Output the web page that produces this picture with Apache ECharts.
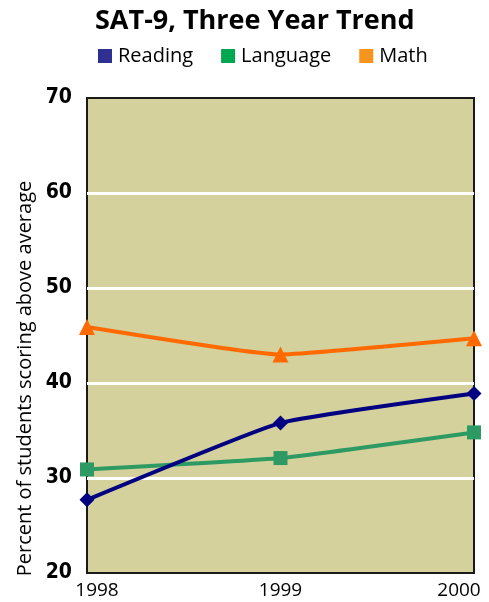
<!DOCTYPE html>
<html>
<head>
<meta charset="utf-8">
<script src="https://cdn.jsdelivr.net/npm/echarts@6/dist/echarts.min.js"></script>
<style>
html, body { margin: 0; padding: 0; background: #fff; }
#chart { width: 489px; height: 602px; }
</style>
</head>
<body>
<div id="chart"></div>
<script>
// data
var years = ['1998', '1999', '2000'];
var reading = [27.7, 35.8, 38.9];
var language = [30.9, 32.1, 34.8];
var math = [45.9, 43.0, 44.7];

var chart = echarts.init(document.getElementById('chart'));
var option = {
	title : {
		text : 'SAT-9, Three Year Trend',
		left : 90,
		top : 3,
		textStyle : {
			fontFamily : 'Open Sans',
			fontWeight : 'bold',
			fontSize : 27,
			color : '#000'
		}
	},
	legend : {
		top : 41,
		left : 93,
		itemWidth : 14,
		itemHeight : 14,
		itemGap : 28,
		icon : 'rect',
		textStyle : {
			fontFamily : 'Open Sans',
			fontSize : 20,
			color : '#000',
			padding : [0, 0, 0, 1]
		},
		data : [
			{ name : 'Reading', itemStyle : { color : '#2e3192' } },
			{ name : 'Language', itemStyle : { color : '#00a651' } },
			{ name : 'Math', itemStyle : { color : '#f7941d' } }
		]
	},
	grid : {
		left : 87,
		right : 15,
		top : 98,
		bottom : 29,
		show : true,
		backgroundColor : '#d4d19c',
		borderColor : '#1a1a1a',
		borderWidth : 2
	},
	xAxis : {
		type : 'category',
		data : years,
		boundaryGap : false,
		axisLine : { show : false },
		axisTick : { show : false },
		splitLine : { show : false },
		axisLabel : {
			margin : 8,
			formatter : function(v, i) {
				if (i === 0) return '{l|' + v + '}';
				if (i === years.length - 1) return '{r|' + v + '}';
				return '{m|' + v + '}';
			},
			rich : {
				l : { fontFamily : 'Open Sans', fontSize : 19, color : '#000', padding : [0, 0, 0, 20] },
				m : { fontFamily : 'Open Sans', fontSize : 19, color : '#000' },
				r : { fontFamily : 'Open Sans', fontSize : 19, color : '#000', padding : [0, 30, 0, 0] }
			}
		}
	},
	yAxis : {
		type : 'value',
		min : 20,
		max : 70,
		interval : 10,
		name : 'Percent of students scoring above average',
		nameLocation : 'middle',
		nameGap : 52,
		nameTextStyle : {
			fontFamily : 'Open Sans',
			fontSize : 20,
			color : '#000',
			padding : [0, 86, 0, 0]
		},
		axisLine : { show : false },
		axisTick : { show : false },
		axisLabel : {
			margin : 15,
			fontFamily : 'DejaVu Sans Condensed',
			fontWeight : 'bold',
			fontSize : 21,
			color : '#000'
		},
		splitLine : {
			show : true,
			showMinLine : false,
			showMaxLine : false,
			lineStyle : { color : '#ffffff', width : 3 }
		}
	},
	series : [
		{
			name : 'Reading',
			type : 'line',
			data : reading,
			smooth : 0.12,
			symbol : 'diamond',
			symbolSize : 15,
			color : '#000080',
			lineStyle : { width : 4, color : '#000080' },
			itemStyle : { color : '#000080' },
			z : 3
		},
		{
			name : 'Language',
			type : 'line',
			data : language,
			smooth : 0.12,
			symbol : 'rect',
			symbolSize : 14,
			color : '#2e9a63',
			lineStyle : { width : 4, color : '#2e9a63' },
			itemStyle : { color : '#2e9a63' },
			z : 2
		},
		{
			name : 'Math',
			type : 'line',
			data : math,
			smooth : 0.12,
			symbol : 'triangle',
			symbolSize : 16,
			color : '#ff6a00',
			lineStyle : { width : 4, color : '#ff6a00' },
			itemStyle : { color : '#ff6a00' },
			z : 2
		}
	]
};
chart.setOption(option);
</script>
</body>
</html>
